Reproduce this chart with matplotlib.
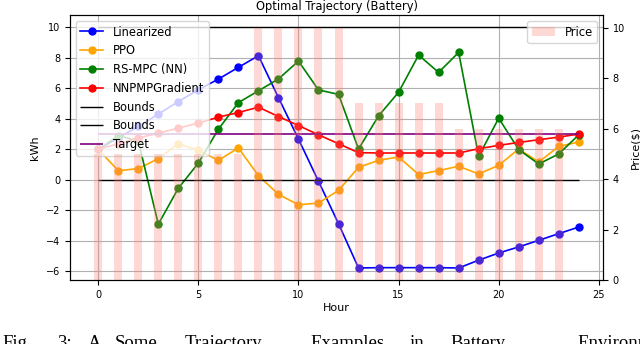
import matplotlib
matplotlib.use("Agg")
import matplotlib.pyplot as plt
import numpy as np

hours = list(range(25))
price_hours = list(range(24))

linearized = [2.0, 2.75, 3.5, 4.3, 5.13, 5.9, 6.6, 7.37, 8.13, 5.39, 2.67, -0.09,
              -2.87, -5.77, -5.75, -5.75, -5.75, -5.75, -5.77, -5.26, -4.79, -4.39,
              -3.96, -3.52, -3.09]
ppo = [2.0, 0.6, 0.74, 1.39, 2.37, 1.93, 1.28, 2.09, 0.28, -0.95, -1.63, -1.52,
       -0.69, 0.82, 1.28, 1.5, 0.35, 0.61, 0.89, 0.39, 0.95, 2.02, 1.17, 2.19, 2.48]
rs_mpc = [2.0, 2.9, 2.55, -2.9, -0.55, 1.1, 3.32, 5.06, 5.83, 6.61, 7.78, 5.89,
          5.6, 2.02, 4.19, 5.74, 8.17, 7.04, 8.35, 1.54, 4.04, 1.98, 1.04, 1.7, 2.95]
nnpmp = [2.0, 2.37, 2.74, 3.06, 3.39, 3.72, 4.11, 4.41, 4.76, 4.15, 3.56, 2.95,
         2.37, 1.78, 1.76, 1.76, 1.76, 1.76, 1.76, 2.04, 2.26, 2.45, 2.63, 2.8, 3.0]
price = [5, 5, 5, 5, 5, 5, 5, 5, 10, 10, 10, 10, 10, 7, 7, 7, 7, 7, 6, 6, 6, 6, 6, 6]

bound_upper = 10
bound_lower = 0
target = 3

title = "Optimal Trajectory (Battery)"
caption_words = ["Fig.", "3:", "A", "Some", "Trajectory", "Examples", "in", "Battery",
                 "Environment"]
caption_x_px = [2, 57, 88, 115, 185, 310, 410, 450, 577]

fig = plt.figure(figsize=(6.4, 3.44), dpi=100)
ax1 = fig.add_axes([0.1094, 0.186, 0.8328, 0.770])

ax1.plot(hours, linearized, marker='o', color='blue', lw=1.2, ms=5, label='Linearized')
ax1.plot(hours, ppo, marker='o', color='orange', lw=1.2, ms=5, label='PPO')
ax1.plot(hours, rs_mpc, marker='o', color='green', lw=1.2, ms=5, label='RS-MPC (NN)')
ax1.plot(hours, nnpmp, marker='o', color='red', lw=1.2, ms=5, label='NNPMPGradient')
ax1.hlines(bound_upper, hours[0], hours[-1], color='black', lw=1.0, label='Bounds')
ax1.hlines(bound_lower, hours[0], hours[-1], color='black', lw=1.0, label='Bounds')
ax1.hlines(target, hours[0], hours[-1], color='purple', lw=1.2, label='Target')
ax1.grid(True, color='#b0b0b0', lw=0.8)
ax1.set_xlabel('Hour', fontsize=8, labelpad=2)
ax1.set_ylabel('kWh', fontsize=8)
ax1.tick_params(labelsize=7)
ax1.set_title(title, fontsize=8.3, pad=4)
ax1.legend(loc='upper left', fontsize=8.3)

ax2 = ax1.twinx()
ax2.bar(price_hours, price, width=0.4, color='salmon', alpha=0.3, label='Price')
ax2.set_ylabel('Price($)', fontsize=8)
ax2.tick_params(labelsize=7)
ax2.legend(loc='upper right', fontsize=8.3)

W, H = 640.0, 344.0
for word, xp in zip(caption_words, caption_x_px):
    fig.text(xp / W, (H - 348) / H, word, family='Liberation Serif', fontsize=13.5,
             va='baseline', ha='left')

fig.savefig('out.png', dpi=100)
